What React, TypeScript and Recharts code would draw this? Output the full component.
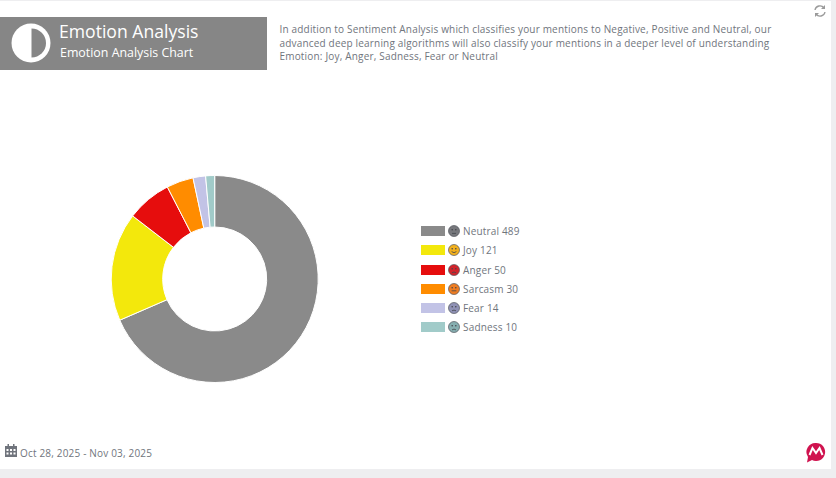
import { PieChart, Pie, Cell, Legend } from 'recharts';

const EMOTIONS = ['Neutral', 'Joy', 'Anger', 'Sarcasm', 'Fear', 'Sadness'];
const COUNTS = [489, 121, 50, 30, 14, 10];
const COLORS = ['#8a8a8a', '#f3e80c', '#e60d0d', '#ff8c00', '#c2c3e6', '#a1cbc9'];
const FACE_COLORS = ['#77787c', '#f2b01e', '#d2232a', '#ee7d23', '#8f91b5', '#86aeb0'];
const MOUTHS = ['M4 8.4h4', 'M3.6 7.6q2.4 2.2 4.8 0', 'M3.8 8.8q2.2-1.6 4.4 0', 'M3.6 7.8h4.8', 'M4 8.8q2-1.4 4 0', 'M4 8.9q2-1.6 4 0'];

const chartData = EMOTIONS.map((name, i) => ({ name, value: COUNTS[i] }));

const FONT = '"Open Sans", sans-serif';

const Face = ({ color, mouth }: { color: string; mouth: string }) => (
  <svg width={12} height={12} viewBox="0 0 12 12" style={{ display: 'block' }}>
    <circle cx={6} cy={6} r={5.5} fill={color} stroke="#55585f" strokeWidth={0.7} />
    <circle cx={4.2} cy={4.8} r={0.8} fill="#44464c" />
    <circle cx={7.8} cy={4.8} r={0.8} fill="#44464c" />
    <path d={mouth} fill="none" stroke="#44464c" strokeWidth={0.8} />
  </svg>
);

const EmotionLegend = () => (
  <div style={{ fontFamily: FONT, fontSize: 10, color: '#70757d' }}>
    {chartData.map((item, i) => (
      <div key={item.name} style={{ display: 'flex', alignItems: 'center', height: 19.2 }}>
        <div style={{ width: 24, height: 10, background: COLORS[i], marginRight: 3 }} />
        <Face color={FACE_COLORS[i]} mouth={MOUTHS[i]} />
        <span style={{ marginLeft: 3, letterSpacing: 0.17, whiteSpace: 'nowrap' }}>
          {item.name} {item.value}
        </span>
      </div>
    ))}
  </div>
);

export default function App() {
  return (
    <div style={{ position: 'absolute', left: 0, top: 0, width: 836, height: 478, background: '#eeeef0', overflow: 'hidden', fontFamily: FONT }}>
      <div style={{ position: 'absolute', left: 0, top: 1, width: 831, height: 468, background: '#fff' }} />

      <div style={{ position: 'absolute', left: 0, top: 17, width: 267, height: 53, background: '#868686', color: '#fff' }}>
        <svg width={40} height={40} viewBox="0 0 40 40" style={{ position: 'absolute', left: 11, top: 6 }}>
          <circle cx={20} cy={20} r={19.5} fill="#fff" />
          <path d="M20.5 5.5a14.5 14.5 0 0 1 0 29z" fill="#868686" />
        </svg>
        <div style={{ position: 'absolute', left: 59, top: 1, fontSize: 17.6, lineHeight: '26px', whiteSpace: 'nowrap' }}>Emotion Analysis</div>
        <div style={{ position: 'absolute', left: 60, top: 27, fontSize: 12.4, lineHeight: '18px', whiteSpace: 'nowrap' }}>Emotion Analysis Chart</div>
      </div>

      <div style={{ position: 'absolute', left: 279.5, top: 23, width: 530, fontSize: 10, lineHeight: '13.6px', letterSpacing: 0.18, color: '#70757d' }}>
        <div style={{ whiteSpace: 'nowrap' }}>In addition to Sentiment Analysis which classifies your mentions to Negative, Positive and Neutral, our</div>
        <div style={{ whiteSpace: 'nowrap' }}>advanced deep learning algorithms will also classify your mentions in a deeper level of understanding</div>
        <div style={{ whiteSpace: 'nowrap' }}>Emotion: Joy, Anger, Sadness, Fear or Neutral</div>
      </div>

      <svg width={14} height={14} viewBox="0 0 14 14" style={{ position: 'absolute', left: 813, top: 4 }}>
        <path d="M2 6a5 5 0 0 1 9-2M12 8a5 5 0 0 1-9 2" fill="none" stroke="#9a9a9a" strokeWidth={1.3} />
        <path d="M12 1v4H8zM2 13V9h4z" fill="#9a9a9a" />
      </svg>

      <div style={{ position: 'absolute', left: 0, top: 0 }}>
        <PieChart width={836} height={478} margin={{ top: 0, right: 0, bottom: 0, left: 0 }}>
          <Pie
            data={chartData}
            dataKey="value"
            nameKey="name"
            cx={214.7}
            cy={279}
            innerRadius={52}
            outerRadius={103.5}
            startAngle={90}
            endAngle={-270}
            stroke="#fff"
            strokeWidth={1}
            isAnimationActive={false}
          >
            {chartData.map((entry, index) => (
              <Cell key={`cell-${index}`} fill={COLORS[index]} />
            ))}
          </Pie>
          <Legend
            content={<EmotionLegend />}
            wrapperStyle={{ position: 'absolute', left: 421, top: 221.6, width: 130, bottom: 'auto' }}
          />
        </PieChart>
      </div>

      <svg width={12} height={13} viewBox="0 0 12 13" style={{ position: 'absolute', left: 5, top: 444 }}>
        <path d="M0 2h12v11H0z" fill="#70747c" />
        <path d="M2.5 0h1.5v3H2.5zM8 0h1.5v3H8z" fill="#70747c" />
        <path d="M1.5 5h2v2h-2zM5 5h2v2H5zM8.5 5h2v2h-2zM1.5 8.5h2v2h-2zM5 8.5h2v2H5zM8.5 8.5h2v2h-2z" fill="#fff" />
      </svg>
      <div style={{ position: 'absolute', left: 20, top: 446, fontSize: 10, lineHeight: '14px', letterSpacing: 0.18, color: '#70757d', whiteSpace: 'nowrap' }}>
        Oct 28, 2025 - Nov 03, 2025
      </div>

      <svg width={20} height={21} viewBox="0 0 20 21" style={{ position: 'absolute', left: 806, top: 442 }}>
        <path d="M10 1a9 9 0 1 1-4 17L1 20.5 2 15A9 9 0 0 1 10 1z" fill="#d0134f" />
        <path d="M3.5 13 6.5 6 10 11l3.5-5 3 7" fill="none" stroke="#fff" strokeWidth={2} />
      </svg>
    </div>
  );
}
